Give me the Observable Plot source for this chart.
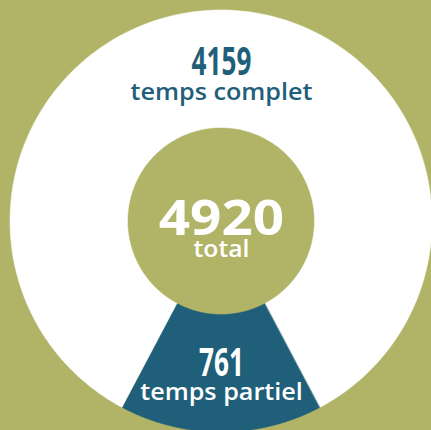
<!DOCTYPE html>
<html><head><meta charset="utf-8">
<script src="https://cdn.jsdelivr.net/npm/d3@7"></script>
<script src="https://cdn.jsdelivr.net/npm/@observablehq/plot@0.6"></script>
<style>html,body{margin:0;padding:0;background:#b1b466;overflow:hidden}</style>
</head><body><div id="chart"></div>
<script>
// ---- data ----
const categories = ["temps complet", "temps partiel"];
const values = [4159, 761];
const centerLabel = "total";

// ---- layout / style ----
const W = 431, H = 430;
const cx = 221, cy = 221;
const rOuter = 211, rInner = 93.5;
const labelRadius = (rInner + rOuter) / 2 - 2;
const bg = "#b1b466";
const sliceColors = ["#ffffff", "#1f5f79"];
const textColors = ["#1f5f79", "#ffffff"];
const numFont = "'Open Sans', sans-serif";
const txtFont = "'Open Sans', Lato, sans-serif";

const total = d3.sum(values);
const partAngle = 2 * Math.PI * values[1] / total;
const pie = d3.pie().sort(null).value(d => d.value)
  .startAngle(-Math.PI + partAngle / 2).endAngle(Math.PI + partAngle / 2);
const slices = pie(categories.map((c, i) => ({cat: c, value: values[i], i})));

// samples along each annular sector
const samples = [];
for (const s of slices) {
  const n = 200;
  for (let k = 0; k <= n; k++) {
    const t = s.startAngle + (s.endAngle - s.startAngle) * k / n;
    samples.push({cat: s.data.cat, t});
  }
}
const labels = slices.map(s => {
  const m = (s.startAngle + s.endAngle) / 2;
  return {cat: s.data.cat, value: s.data.value, i: s.data.i,
          x: labelRadius * Math.sin(m), y: labelRadius * Math.cos(m)};
});

const chart = Plot.plot({
  width: W, height: H, margin: 0,
  style: {background: bg, overflow: "visible"},
  x: {domain: [-cx, W - cx], axis: null},
  y: {domain: [cy - H, cy], axis: null},
  color: {domain: categories, range: sliceColors},
  marks: [
    Plot.area(samples, {
      x1: d => rOuter * Math.sin(d.t), y1: d => rOuter * Math.cos(d.t),
      x2: d => rInner * Math.sin(d.t), y2: d => rInner * Math.cos(d.t),
      z: "cat", fill: "cat", stroke: "cat", strokeWidth: 0.5
    }),
    Plot.text(labels, {x: "x", y: "y", text: d => String(d.value), dy: -8.5,
      fill: d => textColors[d.i], fontFamily: numFont, fontWeight: "bold", fontSize: 39}),
    Plot.text(labels, {x: "x", y: "y", text: "cat", dy: 21,
      fill: d => textColors[d.i], fontFamily: txtFont, fontWeight: 600, fontSize: 24}),
    Plot.text([total], {x: () => 0, y: () => 0, text: d => String(d), dy: -1.7,
      fill: "white", fontFamily: txtFont, fontWeight: 700, fontSize: 49}),
    Plot.text([centerLabel], {x: () => 0, y: () => 0, text: d => d, dy: 28.3,
      fill: "white", fontFamily: txtFont, fontWeight: 600, fontSize: 24})
  ]
});
// horizontal condensing / widening of the typefaces
const groups = chart.querySelectorAll('g[aria-label="text"]');
const sx = [0.67, 1.05, 1.12, 1.03];
groups.forEach((g, gi) => {
  g.querySelectorAll("text").forEach(t => {
    const tr = t.getAttribute("transform") || "";
    t.setAttribute("transform", tr + ` scale(${sx[gi]},1)`);
  });
});
document.getElementById("chart").append(chart);
</script>
</body></html>
